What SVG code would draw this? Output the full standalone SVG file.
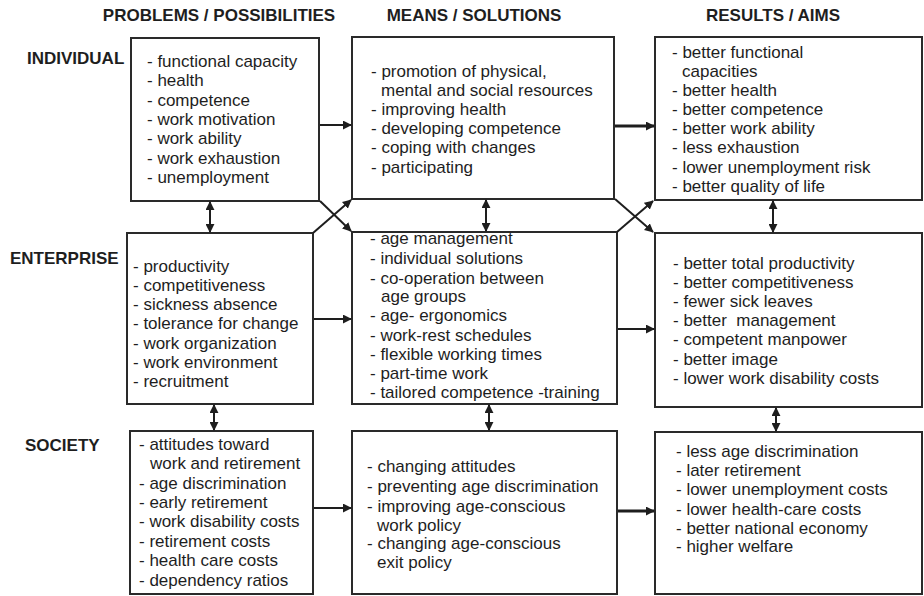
<svg xmlns="http://www.w3.org/2000/svg" width="924" height="596" viewBox="0 0 924 596">
<style>
.bx{fill:#fff;stroke:#2a2a2a;stroke-width:2}
.t{font-family:"Liberation Sans",Arial,sans-serif;font-size:17px;fill:#1e1e1e}
.h{font-family:"Liberation Sans",Arial,sans-serif;font-size:17px;font-weight:bold;fill:#1e1e1e}
.c{stroke:#1e1e1e;stroke-width:2;fill:none}
.k{stroke-width:3}
</style>
<defs>
<marker id="ah" viewBox="0 0 10 10" refX="9" refY="5" markerWidth="9" markerHeight="9" markerUnits="userSpaceOnUse" orient="auto-start-reverse"><path d="M0,0 L10,5 L0,10 z" fill="#1e1e1e"/></marker>
</defs>
<rect width="924" height="596" fill="#fff"/>
<g id="headers">
<text class="h" x="219" y="21" text-anchor="middle">PROBLEMS / POSSIBILITIES</text>
<text class="h" x="474" y="21" text-anchor="middle">MEANS / SOLUTIONS</text>
<text class="h" x="773" y="21" text-anchor="middle">RESULTS / AIMS</text>
<text class="h" x="27" y="64">INDIVIDUAL</text>
<text class="h" x="10" y="264">ENTERPRISE</text>
<text class="h" x="25" y="451">SOCIETY</text>
</g>
<g id="ind-problems">
<rect class="bx" x="131" y="38" width="188" height="163"/>
<text class="t"><tspan x="147" y="67">- functional capacity</tspan><tspan x="147" y="86.3">- health</tspan><tspan x="147" y="105.6">- competence</tspan><tspan x="147" y="124.9">- work motivation</tspan><tspan x="147" y="144.2">- work ability</tspan><tspan x="147" y="163.5">- work exhaustion</tspan><tspan x="147" y="182.8">- unemployment</tspan></text>
</g>
<g id="ind-means">
<rect class="bx" x="352" y="37" width="262" height="162"/>
<text class="t"><tspan x="371" y="77">- promotion of physical,</tspan><tspan x="381" y="96">mental and social resources</tspan><tspan x="371" y="115">- improving health</tspan><tspan x="371" y="134">- developing competence</tspan><tspan x="371" y="153">- coping with changes</tspan><tspan x="371" y="173">- participating</tspan></text>
</g>
<g id="ind-results">
<rect class="bx" x="655" y="37" width="267" height="163"/>
<text class="t"><tspan x="672" y="58">- better functional</tspan><tspan x="682" y="77">capacities</tspan><tspan x="672" y="96">- better health</tspan><tspan x="672" y="115">- better competence</tspan><tspan x="672" y="134">- better work ability</tspan><tspan x="672" y="153">- less exhaustion</tspan><tspan x="672" y="172.5">- lower unemployment risk</tspan><tspan x="672" y="191.5">- better quality of life</tspan></text>
</g>
<g id="ent-problems">
<rect class="bx" x="127" y="233" width="186" height="171"/>
<text class="t"><tspan x="133" y="271.7">- productivity</tspan><tspan x="133" y="290.9">- competitiveness</tspan><tspan x="133" y="310.1">- sickness absence</tspan><tspan x="133" y="329.3">- tolerance for change</tspan><tspan x="133" y="348.5">- work organization</tspan><tspan x="133" y="367.7">- work environment</tspan><tspan x="133" y="386.9">- recruitment</tspan></text>
</g>
<g id="ent-means">
<rect class="bx" x="352" y="232" width="265" height="172"/>
<text class="t"><tspan x="370" y="243.5">- age management</tspan><tspan x="370" y="264">- individual solutions</tspan><tspan x="370" y="283.5">- co-operation between</tspan><tspan x="381" y="302">age groups</tspan><tspan x="370" y="321">- age- ergonomics</tspan><tspan x="370" y="341">- work-rest schedules</tspan><tspan x="370" y="360">- flexible working times</tspan><tspan x="370" y="379">- part-time work</tspan><tspan x="370" y="398">- tailored competence -training</tspan></text>
</g>
<g id="ent-results">
<rect class="bx" x="655" y="233" width="267" height="174"/>
<text class="t" xml:space="preserve"><tspan x="673" y="268.5">- better total productivity</tspan><tspan x="673" y="287.7">- better competitiveness</tspan><tspan x="673" y="306.9">- fewer sick leaves</tspan><tspan x="673" y="326.1">- better  management</tspan><tspan x="673" y="345.3">- competent manpower</tspan><tspan x="673" y="364.5">- better image</tspan><tspan x="673" y="383.7">- lower work disability costs</tspan></text>
</g>
<g id="soc-problems">
<rect class="bx" x="130" y="431" width="183" height="163"/>
<text class="t"><tspan x="139" y="450">- attitudes toward</tspan><tspan x="150" y="469.3">work and retirement</tspan><tspan x="139" y="488.6">- age discrimination</tspan><tspan x="139" y="507.9">- early retirement</tspan><tspan x="139" y="527.2">- work disability costs</tspan><tspan x="139" y="546.5">- retirement costs</tspan><tspan x="139" y="565.8">- health care costs</tspan><tspan x="139" y="586">- dependency ratios</tspan></text>
</g>
<g id="soc-means">
<rect class="bx" x="352" y="431" width="265" height="163"/>
<text class="t"><tspan x="367" y="471.7">- changing attitudes</tspan><tspan x="367" y="492.3">- preventing age discrimination</tspan><tspan x="367" y="511.7">- improving age-conscious</tspan><tspan x="377" y="531">work policy</tspan><tspan x="367" y="549">- changing age-conscious</tspan><tspan x="377" y="568.3">exit policy</tspan></text>
</g>
<g id="soc-results">
<rect class="bx" x="655" y="432" width="267" height="162"/>
<text class="t"><tspan x="676" y="456.7">- less age discrimination</tspan><tspan x="676" y="475.5">- later retirement</tspan><tspan x="676" y="495">- lower unemployment costs</tspan><tspan x="676" y="514.5">- lower health-care costs</tspan><tspan x="676" y="533.5">- better national economy</tspan><tspan x="676" y="552">- higher welfare</tspan></text>
</g>
<g id="connectors">
<line class="c" x1="320" y1="125" x2="351" y2="125" marker-end="url(#ah)"/>
<line class="c k" x1="615" y1="126" x2="654" y2="126" marker-end="url(#ah)"/>
<line class="c" x1="314" y1="319" x2="351" y2="319" marker-end="url(#ah)"/>
<line class="c" x1="618" y1="329" x2="654" y2="329" marker-end="url(#ah)"/>
<line class="c" x1="314" y1="508" x2="351" y2="508" marker-end="url(#ah)"/>
<line class="c k" x1="618" y1="511" x2="654" y2="511" marker-end="url(#ah)"/>
<line class="c" x1="210" y1="202" x2="210" y2="232" marker-start="url(#ah)" marker-end="url(#ah)"/>
<line class="c" x1="486" y1="200" x2="486" y2="231" marker-start="url(#ah)" marker-end="url(#ah)"/>
<line class="c" x1="773" y1="201" x2="773" y2="232" marker-start="url(#ah)" marker-end="url(#ah)"/>
<line class="c" x1="214" y1="405" x2="214" y2="430" marker-start="url(#ah)" marker-end="url(#ah)"/>
<line class="c" x1="489" y1="405" x2="489" y2="430" marker-start="url(#ah)" marker-end="url(#ah)"/>
<line class="c" x1="776" y1="408" x2="776" y2="431" marker-start="url(#ah)" marker-end="url(#ah)"/>
<line class="c" x1="320" y1="201" x2="351" y2="231" marker-end="url(#ah)"/>
<line class="c" x1="313" y1="233" x2="351" y2="200" marker-end="url(#ah)"/>
<line class="c" x1="615" y1="199" x2="653" y2="232" marker-end="url(#ah)"/>
<line class="c" x1="617" y1="232" x2="653" y2="201" marker-end="url(#ah)"/>
</g>
</svg>
